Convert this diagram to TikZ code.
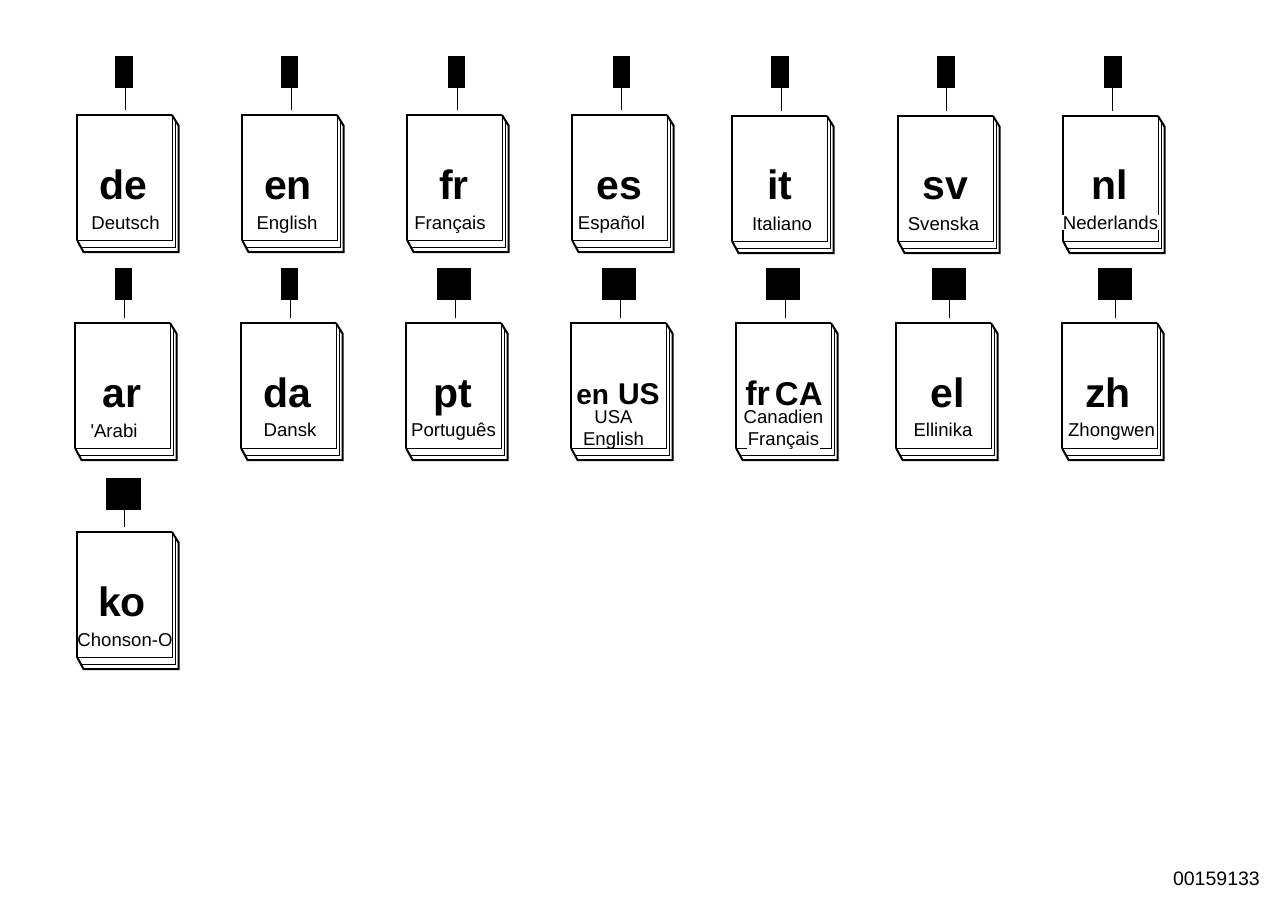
\documentclass[tikz,border=0pt]{standalone}
\usepackage{fontspec}
\setmainfont{Liberation Sans}[Ligatures=TeXOff]
\newcommand{\fsz}[1]{\fontsize{#1}{#1}\selectfont}
\tikzset{
  x=1pt,y=-1pt,
  tag/.style={fill=black,draw=none,inner sep=0pt,outer sep=0pt,minimum height=32pt},
  lead/.style={line width=1pt},
  code/.style={anchor=base,inner sep=0pt,font=\fsz{41}\bfseries},
  sub/.style={anchor=base,inner sep=0pt,font=\fsz{18.6}},
  subk/.style={sub,fill=white,inner ysep=1pt,inner xsep=1pt},
  heavy/.style={line width=2pt,line join=miter},
  thin/.style={line width=1pt,line join=miter}
}
% one booklet: id, left edge, top edge of the front page
\newcommand{\booklet}[3]{%
  \coordinate (#1) at (#2,#3);
  \draw[heavy,fill=white] (#2+95,#3) -- (#2+101.5,#3+10.5) -- (#2+101.5,#3+137) -- (#2+6.5,#3+137) -- (#2,#3+125);
  \draw[thin] (#2+98.5,#3+5) -- (#2+98.5,#3+132) -- (#2+3.5,#3+132);
  \draw[thin] (#2+95,#3) -- (#2+95,#3+125) -- (#2,#3+125);
  \draw[heavy] (#2,#3+125) -- (#2,#3) -- (#2+95,#3);
}
% black tag with its lead: id, lead x, tag left, tag right, tag top, lead end y
\newcommand{\leadtag}[6]{%
  \node[tag,minimum width={#4-#3},anchor=north west] (#1) at (#3,#5) {};
  \coordinate (#1e) at (#2,#6);
  \draw[lead] (#2,#5+32) -- (#1e);
}
\begin{document}
\begin{tikzpicture}
\useasboundingbox (0,0) rectangle (1287,910);
\booklet{bde}{77}{115}\leadtag{tde}{125.5}{115}{133}{56}{110}
\booklet{ben}{242}{115}\leadtag{ten}{291.5}{281}{298}{56}{110}
\booklet{bfr}{407}{115}\leadtag{tfr}{457.5}{448}{465}{56}{110}
\booklet{bes}{572}{115}\leadtag{tes}{621.5}{613}{630}{56}{110}
\booklet{bit}{732}{116}\leadtag{tit}{781.5}{771}{789}{56}{111}
\booklet{bsv}{898}{116}\leadtag{tsv}{946.5}{937}{955}{56}{111}
\booklet{bnl}{1063}{116}\leadtag{tnl}{1112.5}{1104}{1122}{56}{111}
\booklet{bar}{75}{323}\leadtag{tar}{124.5}{115}{132}{268}{318}
\booklet{bda}{241}{323}\leadtag{tda}{290.5}{281}{298}{268}{318}
\booklet{bpt}{406}{323}\leadtag{tpt}{455.5}{437}{471}{268}{318}
\booklet{bus}{571}{323}\leadtag{tus}{620.5}{602}{636}{268}{318}
\booklet{bca}{736}{323}\leadtag{tca}{785.5}{766}{800}{268}{318}
\booklet{bel}{896}{323}\leadtag{tel}{949.5}{932}{966}{268}{318}
\booklet{bzh}{1062}{323}\leadtag{tzh}{1115.5}{1098}{1132}{268}{318}
\booklet{bko}{77}{532}\leadtag{tko}{124.5}{106}{141}{478}{527}
\node[code] (cde) at (123.5,199.5) {de};
\node[code] (cen) at (288,199.5) {en};
\node[code] (cfr) at (454,199.5) {fr};
\node[code] (ces) at (619,199.5) {es};
\node[code] (cit) at (780,199.5) {it};
\node[code] (csv) at (945,199.5) {sv};
\node[code] (cnl) at (1110,199.5) {nl};
\node[code] (car) at (122,407.5) {ar};
\node[code] (cda) at (287,407.5) {da};
\node[code] (cpt) at (453,407.5) {pt};
\node[code] (cus) at (618,404.5) {{\fsz{28}en}\kern9pt{\fsz{30}US}};
\node[code] (cca) at (784,405.5) {{\fsz{34}fr}\kern5pt{\fsz{33}CA}};
\node[code] (cel) at (948,407.5) {el};
\node[code] (czh) at (1108,407.5) {zh};
\node[code] (cko) at (122,616.5) {ko};
\node[sub] (sde) at (125.5,229) {Deutsch};
\node[sub] (sen) at (287,229) {English};
\node[sub] (sfr) at (450,229) {Français};
\node[sub] (ses) at (611.5,229) {Español};
\node[sub] (sit) at (782,230) {Italiano};
\node[sub] (ssv) at (943.5,230) {Svenska};
\node[subk] (snl) at (1110.5,229) {Nederlands};
\node[sub] (sar) at (114,437) {'Arabi};
\node[sub] (sda) at (290,436) {Dansk};
\node[sub] (spt) at (453.5,436) {Português};
\node[sub] (sus) at (613.5,423) {USA};
\node[sub] (sus2) at (613.5,445) {English};
\node[sub] (sca) at (783.5,423) {Canadien};
\node[subk] (sca2) at (783.5,445) {Français};
\node[sub] (sel) at (943,436) {Ellinika};
\node[sub] (szh) at (1111.5,436) {Zhongwen};
\node[sub] (sko) at (125,646) {Chonson-O};
\node[anchor=base east,inner sep=0pt,font=\fsz{19.5}] (num) at (1260,885) {00159133};
\end{tikzpicture}
\end{document}
